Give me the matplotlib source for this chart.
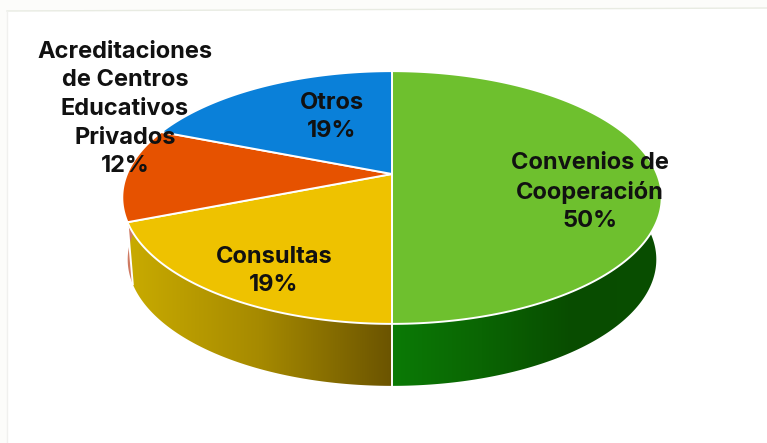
import numpy as np
import matplotlib
matplotlib.use("Agg")
import matplotlib.pyplot as plt
from matplotlib.colors import LinearSegmentedColormap
from matplotlib.patches import Polygon

# Datos del grafico, en sentido horario desde arriba
labels = ["Convenios de\nCooperación", "Consultas",
          "Acreditaciones\nde Centros\nEducativos\nPrivados", "Otros"]
values = [50, 19, 12, 19]
top_colors = ["#6ec02e", "#eec200", "#e65200", "#0a80d9"]
side_colors = [["#0b7a06", "#0a6503", "#084c00", "#094e00"],
               ["#c9ab00", "#a68a00", "#6b5400"],
               ["#cf7a62", "#cf7a62"],
               ["#0a5a9c", "#0a5a9c"]]
label_pos = [(590, 192), (274, 271), (125, 109), (332, 117)]

W, H = 767, 443
CX, CY = 392, 174
RX, RY, K = 265, 122, 0.186
DEPTH, SHRINK = 62, 0.98


def project(theta, shrink=1.0, dy=0.0):
    # disco en perspectiva: el fondo se ve mas pequeno que el frente
    u, v = np.sin(theta), np.cos(theta)
    s = 1 / (1 + K * v)
    return CX + RX * shrink * u * s, CY + dy - RY * v * s


def arc(a0, a1, **kw):
    t = np.linspace(a0, a1, 200)
    x, y = project(t, **kw)
    return np.column_stack([x, y])


fig = plt.figure(figsize=(W / 100, H / 100), dpi=100, facecolor="#fcfcfa")
ax = fig.add_axes([0, 0, 1, 1])
ax.set_xlim(0, W)
ax.set_ylim(H, 0)
ax.axis("off")

# hoja blanca con un borde tenue
ax.fill([7, W, W, 7], [11, 8, H, H], fc="white", ec="none", zorder=0)
ax.plot([7, W], [11, 8], color="#e8ebe2", lw=1, zorder=0)
ax.plot([7, 7], [11, H], color="#f0f0ee", lw=1, zorder=0)

edges = np.concatenate([[0], np.cumsum(values)]) / sum(values) * 2 * np.pi

# pared lateral, solo la parte que mira al frente
for i in range(len(values)):
    a0 = max(edges[i], np.pi / 2 - 0.1)
    a1 = min(edges[i + 1], 3 * np.pi / 2 + 0.1)
    if a1 <= a0:
        continue
    top = arc(a0, a1)
    bottom = arc(a0, a1, shrink=SHRINK, dy=DEPTH)
    poly = np.vstack([top, bottom[::-1]])
    x0, x1 = poly[:, 0].min(), poly[:, 0].max()
    cmap = LinearSegmentedColormap.from_list("wall%d" % i, side_colors[i])
    grad = np.linspace(0, 1, 256).reshape(1, -1)
    im = ax.imshow(grad, cmap=cmap, extent=(x0, x1, poly[:, 1].max(), poly[:, 1].min()),
                   aspect="auto", zorder=1)
    im.set_clip_path(Polygon(poly, transform=ax.transData))
ax.set_xlim(0, W)
ax.set_ylim(H, 0)

# divisiones verticales de la pared
for e in edges[:-1]:
    if np.pi / 2 < e < 3 * np.pi / 2:
        x, y = project(e)
        xb, yb = project(e, shrink=SHRINK, dy=DEPTH)
        ax.plot([x, xb], [y, yb], color="white", lw=1.4, zorder=2)

# cara superior
for i, color in enumerate(top_colors):
    pts = np.vstack([[CX, CY], arc(edges[i], edges[i + 1]), [CX, CY]])
    ax.add_patch(Polygon(pts, closed=True, fc=color, ec="white", lw=1.4,
                         joinstyle="round", zorder=3))

for name, val, (x, y) in zip(labels, values, label_pos):
    ax.text(x, y, "%s\n%d%%" % (name, val), ha="center", va="center", fontsize=17,
            family="Inter", weight="bold", color="#111111", linespacing=1.39, zorder=4)

fig.savefig("out.png", dpi=100, facecolor=fig.get_facecolor())
